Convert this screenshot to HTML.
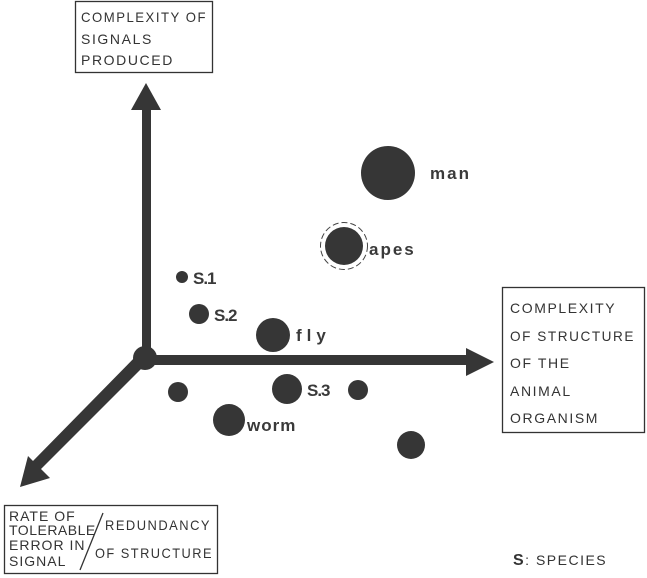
<!DOCTYPE html>
<html><head><style>
body{margin:0;background:#fff;}
svg{display:block}
.b{font-family:"Liberation Sans",sans-serif;font-size:14px;fill:#333;letter-spacing:1.6px}
.l{font-family:"Liberation Sans",sans-serif;font-size:17px;font-weight:bold;fill:#3a3a3a;letter-spacing:2px}
</style></head><body>
<svg width="647" height="578" viewBox="0 0 647 578">
<g fill="none" stroke="#333" stroke-width="1.3">
<rect x="75.5" y="1.5" width="137" height="71"/>
<rect x="502.5" y="287.5" width="142" height="145"/>
<rect x="4.5" y="505.5" width="213" height="68"/>
<line x1="103" y1="513" x2="80" y2="570"/>
</g>
<text class="b" x="81" y="22" textLength="126" lengthAdjust="spacingAndGlyphs">COMPLEXITY OF</text>
<text class="b" x="81" y="44">SIGNALS</text>
<text class="b" x="81" y="65">PRODUCED</text>
<text class="b" x="510" y="313">COMPLEXITY</text>
<text class="b" x="510" y="341" textLength="125" lengthAdjust="spacingAndGlyphs">OF STRUCTURE</text>
<text class="b" x="510" y="368">OF THE</text>
<text class="b" x="510" y="396">ANIMAL</text>
<text class="b" x="510" y="423">ORGANISM</text>
<text class="b" x="9" y="521" style="letter-spacing:1px">RATE OF</text>
<text class="b" x="9" y="535" style="letter-spacing:0.5px">TOLERABLE</text>
<text class="b" x="9" y="550" style="letter-spacing:1px">ERROR IN</text>
<text class="b" x="9" y="566" style="letter-spacing:1px">SIGNAL</text>
<text class="b" x="105" y="530" textLength="106" lengthAdjust="spacingAndGlyphs">REDUNDANCY</text>
<text class="b" x="95" y="558" textLength="118" lengthAdjust="spacingAndGlyphs">OF STRUCTURE</text>
<text class="b" x="513" y="565" style="letter-spacing:1.5px"><tspan style="font-weight:bold;font-size:16px">S</tspan>: SPECIES</text>
<g fill="#363636" stroke="none">
<rect x="142" y="105" width="9" height="255"/>
<polygon points="146,83 131,110 161,110"/>
<rect x="145" y="355" width="325" height="10"/>
<polygon points="494,362 466,348 466,376"/>
<polygon points="140,352 148,362 40,470 32,462"/>
<polygon points="20,487 28,456 50,478"/>
<circle cx="145" cy="358" r="12"/>
<circle cx="388" cy="173" r="27"/>
<circle cx="344" cy="246" r="19"/>
<circle cx="182" cy="277" r="6"/>
<circle cx="199" cy="314" r="10"/>
<circle cx="273" cy="335" r="17"/>
<circle cx="178" cy="392" r="10"/>
<circle cx="287" cy="389" r="15"/>
<circle cx="358" cy="390" r="10"/>
<circle cx="229" cy="420" r="16"/>
<circle cx="411" cy="445" r="14"/>
</g>
<circle cx="344" cy="246" r="23.5" fill="none" stroke="#444" stroke-width="1" stroke-dasharray="6 3"/>
<text class="l" x="430" y="179">man</text>
<text class="l" x="369" y="255">apes</text>
<text class="l" x="193" y="284" style="letter-spacing:-1px">S.1</text>
<text class="l" x="214" y="321" style="letter-spacing:-1px">S.2</text>
<text class="l" x="296" y="341" style="letter-spacing:5px">fly</text>
<text class="l" x="307" y="396" style="letter-spacing:-1px">S.3</text>
<text class="l" x="247" y="431" style="letter-spacing:1px">worm</text>
</svg>
</body></html>
